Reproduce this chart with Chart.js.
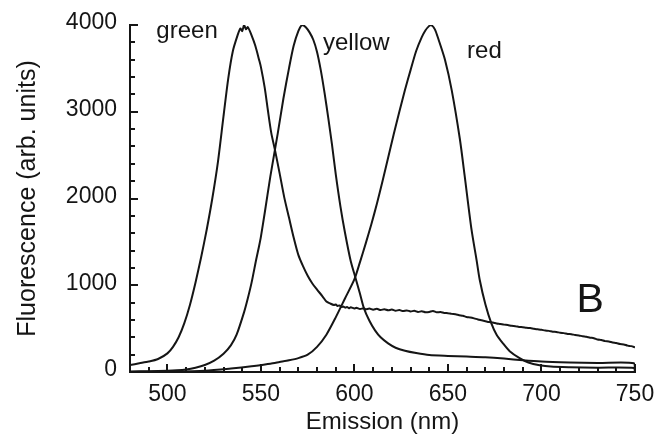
<!DOCTYPE html>
<html>
<head>
<meta charset="utf-8">
<script src="https://cdn.jsdelivr.net/npm/chart.js@4/dist/chart.umd.min.js"></script>
<style>
  html, body { margin: 0; padding: 0; background: #fff; }
</style>
</head>
<body>
<canvas id="chartEmision" width="655" height="439"></canvas>
<script>
// SECTION 1: DATA

const greenNm = [480, 485, 490, 495, 500, 503, 506, 509, 512, 515, 518, 521, 524, 527, 530, 532.5, 535, 537.5, 539, 540, 541, 542, 543, 545, 547, 549, 550, 552, 553.7, 555.5, 557.5, 560, 562.5, 565, 567.5, 570, 572.5, 575, 577.5, 580, 583, 585,
  587, 589, 590, 591, 592, 593, 594, 595, 596, 597, 598, 600, 601, 603, 605, 606, 608, 610, 612, 614, 616, 618, 620, 622, 624, 626, 628, 630, 632, 634, 636, 638,
  640, 642, 644, 646, 648, 650, 652, 654, 656, 658, 660, 662, 664, 666, 668, 670, 672, 674, 676, 678, 680, 682, 684, 686, 688, 690, 692, 694, 696, 698, 700,
  702, 704, 706, 708, 710, 712, 714, 716, 718, 720, 722, 724, 726, 728, 730, 732, 734, 736, 738, 740, 742, 744, 746, 748, 750];
const greenVal = [80, 100, 120, 150, 215, 290, 400, 560, 770, 1030, 1320, 1640, 2000, 2420, 2950, 3380, 3700, 3880, 3960, 3930, 4000, 3950, 3975, 3880, 3760, 3600, 3515, 3280, 3020, 2760, 2560, 2290, 2010, 1780, 1550, 1350, 1220, 1110, 1020, 950, 870, 812,
  790, 772, 778, 760, 768, 748, 756, 742, 750, 736, 745, 732, 741, 726, 736, 722, 731, 718, 728, 714, 724, 711, 720, 706, 714, 702, 710, 698, 705, 692, 700, 688,
  692, 703, 688, 692, 680, 678, 670, 666, 655, 648, 634, 628, 618, 606, 596, 586, 576, 570, 560, 554, 546, 542, 532, 528, 520, 516, 510, 506, 498, 492, 486,
  478, 474, 464, 462, 452, 448, 438, 436, 426, 422, 412, 406, 396, 390, 374, 368, 356, 352, 340, 334, 322, 318, 304, 298, 284];

const yellowNm = [480, 490, 500, 505, 510, 515, 520, 525, 530, 534, 537, 541, 543, 545, 547.5, 549, 550, 552, 555, 559, 562, 565, 567.5, 570, 572, 574, 576, 578, 580, 582, 584, 586, 588, 590, 592.5, 595, 598, 600.5, 603, 605, 608, 611, 614, 618, 622, 627, 633, 640, 650, 660, 670, 680, 690, 700, 715, 730, 749.5, 750];
const yellowVal = [5, 10, 15, 20, 30, 50, 80, 130, 210, 310, 430, 690, 850, 1030, 1300, 1450, 1560, 1830, 2250, 2750, 3150, 3500, 3760, 3930, 4000, 3975, 3915, 3830, 3690, 3480, 3220, 2930, 2620, 2280, 1910, 1600, 1280, 1090, 900, 740, 590, 480, 400, 330, 280, 245, 218, 195, 185, 178, 170, 155, 135, 120, 110, 104, 100, 0];

const redNm = [480, 500, 520, 534, 545, 550, 555, 560, 565, 570, 575, 580, 585, 590, 595, 600, 603, 606, 609, 612, 615, 618, 621, 624, 627, 630, 633, 636, 638, 640, 641, 643, 645, 648.4, 652, 656.4, 659, 662.6, 665.3, 667, 670, 673.2, 676, 679.4, 683, 688.3, 693, 699, 705, 715, 730, 749.5, 750];
const redVal = [0, 5, 15, 40, 65, 80, 95, 115, 135, 160, 200, 290, 430, 630, 850, 1070, 1270, 1480, 1700, 1940, 2200, 2470, 2740, 3000, 3250, 3480, 3700, 3860, 3940, 3990, 4000, 3950, 3830, 3600, 3250, 2680, 2250, 1640, 1290, 1060, 780, 560, 430, 330, 240, 160, 110, 78, 62, 55, 50, 46, 0];

const xTickLabels = [500, 550, 600, 650, 700, 750];
const yTickLabels = [0, 1000, 2000, 3000, 4000];

// curve names and where they are written (in data units)
const curveNames = ['green', 'yellow', 'red', 'B'];
const nameNm = [510.5, 601, 669.5, 726];
const nameVal = [3850, 3710, 3620, 690];

// SECTION 2: STYLE

const tinta = '#151515';
const fuente = '"Liberation Sans", Arial, Helvetica, sans-serif';

function toPoints(xs, ys) {
    return xs.map((x, i) => ({ x: x, y: ys[i] }));
}

function curva(label, xs, ys) {
    return {
        label: label,
        data: toPoints(xs, ys),
        borderColor: tinta,
        borderWidth: 2,
        pointRadius: 0,
        fill: false,
        tension: 0.25
    };
}

// inward tick marks, long on labelled values, short on the rest
const ticksDentro = {
    id: 'ticksDentro',
    afterDatasetsDraw(chart) {
        const ctx = chart.ctx;
        const area = chart.chartArea;
        const sx = chart.scales.x;
        const sy = chart.scales.y;
        ctx.save();
        ctx.strokeStyle = tinta;
        ctx.lineWidth = 2;
        for (let v = sx.min + 10; v <= sx.max; v += 10) {
            const px = Math.round(sx.getPixelForValue(v));
            const len = xTickLabels.includes(v) ? 8 : 5;
            ctx.beginPath();
            ctx.moveTo(px, area.bottom);
            ctx.lineTo(px, area.bottom - len);
            ctx.stroke();
        }
        for (let v = sy.min + 200; v <= sy.max; v += 200) {
            const py = Math.round(sy.getPixelForValue(v));
            const len = yTickLabels.includes(v) ? 8 : 5;
            ctx.beginPath();
            ctx.moveTo(area.left, py);
            ctx.lineTo(area.left + len, py);
            ctx.stroke();
        }
        ctx.restore();
    }
};

const nombresCurvas = {
    id: 'nombresCurvas',
    afterDraw(chart) {
        const { ctx, scales } = chart;
        ctx.save();
        ctx.fillStyle = tinta;
        ctx.textAlign = 'center';
        ctx.textBaseline = 'alphabetic';
        curveNames.forEach((nombre, i) => {
            ctx.font = (nombre === 'B' ? '41px ' : '24px ') + fuente;
            ctx.fillText(nombre, scales.x.getPixelForValue(nameNm[i]), scales.y.getPixelForValue(nameVal[i]));
        });
        ctx.restore();
    }
};

// SECTION 3: CHART

new Chart(document.getElementById('chartEmision'), {
    type: 'line',
    data: {
        datasets: [
            curva('green', greenNm, greenVal),
            curva('yellow', yellowNm, yellowVal),
            curva('red', redNm, redVal)
        ]
    },
    options: {
        responsive: false,
        animation: false,
        layout: { padding: { top: 25, right: 20, left: 0, bottom: 0 } },
        plugins: { legend: { display: false }, tooltip: { enabled: false } },
        scales: {
            x: {
                type: 'linear',
                min: 480,
                max: 750,
                grid: { display: false, drawTicks: false },
                border: { display: true, color: tinta, width: 2 },
                ticks: {
                    stepSize: 10,
                    autoSkip: false,
                    maxRotation: 0,
                    padding: 9,
                    color: tinta,
                    font: { family: fuente, size: 23, lineHeight: 1.2 },
                    callback: v => xTickLabels.includes(v) ? String(v) : ''
                },
                title: {
                    display: true,
                    text: 'Emission (nm)',
                    color: tinta,
                    font: { family: fuente, size: 24, lineHeight: 1.2 },
                    padding: { top: 0, bottom: 2 }
                },
                afterFit: s => { s.height = 67; s.paddingLeft = 0; s.paddingRight = 0; }
            },
            y: {
                min: 0,
                max: 4000,
                grid: { display: false, drawTicks: false },
                border: { display: true, color: tinta, width: 2 },
                ticks: {
                    stepSize: 200,
                    autoSkip: false,
                    padding: 13,
                    labelOffset: -2,
                    color: tinta,
                    font: { family: fuente, size: 23, lineHeight: 1.2 },
                    callback: v => yTickLabels.includes(v) ? String(v) : ''
                },
                title: {
                    display: true,
                    text: 'Fluorescence (arb. units)',
                    color: tinta,
                    font: { family: fuente, size: 25, lineHeight: 1.2 },
                    padding: { top: 13, bottom: 0 }
                },
                afterFit: s => { s.width = 130; s.paddingTop = 0; s.paddingBottom = 0; }
            }
        }
    },
    plugins: [ticksDentro, nombresCurvas]
});
</script>
</body>
</html>
